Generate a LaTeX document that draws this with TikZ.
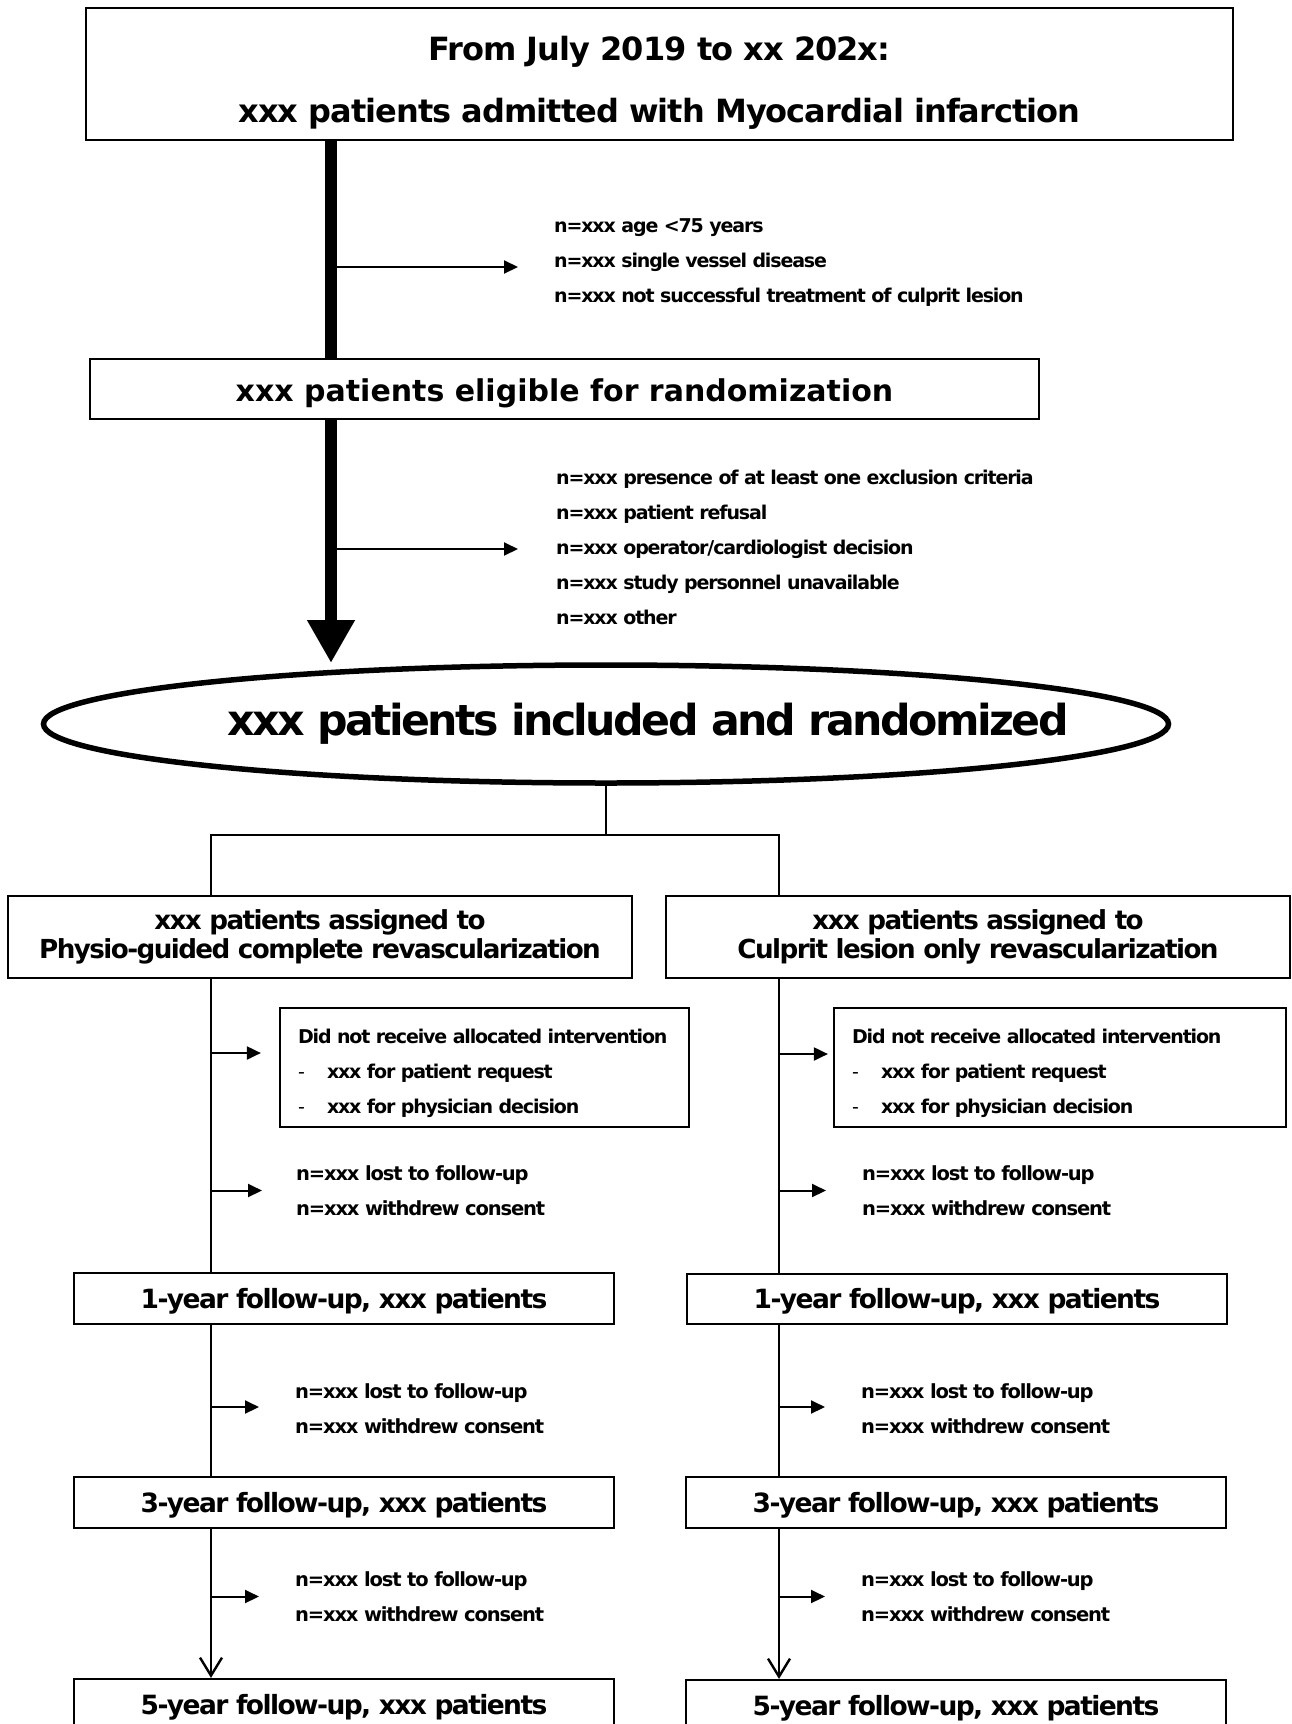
\documentclass[tikz,border=0pt]{standalone}
\usepackage{fontspec}
\setmainfont{DejaVu Sans}
\newfontfamily\tah{DejaVu Sans}[LetterSpace=-6]
\newfontfamily\verd{DejaVu Sans}[LetterSpace=-3]
\newcommand\lowr[2]{\raisebox{-#1}[\height][\depth]{#2}}
\usetikzlibrary{arrows.meta,shapes.geometric}
\begin{document}
\begin{tikzpicture}[x=1pt,y=-1pt,
  box/.style={draw,line width=2.2pt,inner sep=0pt},
  conn/.style={line width=2.4pt},
  sarrow/.style={line width=2pt,-{Triangle[length=14pt,width=13pt]}},
  downarrow/.style={line width=2.4pt,-{Straight Barb[length=18pt,width=22pt,line width=2.4pt]}},
  bigarrow/.style={line width=12pt,-{Triangle[length=43pt,width=45pt]}},
  lst/.style={inner sep=0pt,anchor=west,align=left},
  hugef/.style={font=\verd\bfseries\fontsize{32}{62}\selectfont},
  elifont/.style={font=\bfseries\fontsize{30}{36}\selectfont},
  ellfont/.style={font=\tah\bfseries\fontsize{42.7}{48}\selectfont},
  asgfont/.style={font=\tah\bfseries\fontsize{26.2}{29}\selectfont},
  fufont/.style={font=\tah\bfseries\fontsize{26.5}{30}\selectfont},
  smallt/.style={font=\tah\bfseries\fontsize{19}{35}\selectfont},
  smallu/.style={font=\tah\bfseries\fontsize{19.5}{35}\selectfont}
]
\useasboundingbox (0,0) rectangle (1291,1724);
\clip (0,0) rectangle (1291,1724);

% top part
\node[box,hugef,minimum width=1147,minimum height=132] (top) at (659.5,74)
  {\lowr{5.5pt}{\begin{tabular}{@{}c@{}}From July 2019 to xx 202x:\\xxx patients admitted with Myocardial infarction\end{tabular}}};
\node[box,elifont,minimum width=949,minimum height=60] (elig) at (564.5,389)
  {\lowr{4pt}{xxx patients eligible for randomization}};
\node[draw,ellipse,line width=5.5pt,inner sep=0pt,minimum width=1125,minimum height=118,ellfont] (ell) at (606,724)
  {\makebox[0pt]{\hspace{84pt}xxx patients included and randomized}};

\coordinate (sA) at (331,300);
\coordinate (tipA) at (331,663);

\node[lst,smallt] (lst1) at (554,263)
  {n=xxx age <75 years\\n=xxx single vessel disease\\n=xxx not successful treatment of culprit lesion};
\node[lst,smallt] (lst2) at (556,547)
  {n=xxx presence of at least one exclusion criteria\\n=xxx patient refusal\\n=xxx operator/cardiologist decision\\n=xxx study personnel unavailable\\n=xxx other};

\draw[line width=12pt] (top.south -| sA) -- (elig.north -| sA);
\draw[bigarrow] (elig.south -| sA) -- (tipA);
\draw[sarrow] (sA |- lst1.west) ++(0,4) -- ([xshift=-36pt,yshift=-4pt]lst1.west);
\draw[sarrow] (sA |- lst2.west) ++(0,2) -- ([xshift=-38pt,yshift=-2pt]lst2.west);

% branches
\node[box,asgfont,minimum width=624,minimum height=82] (asgL) at (320,937)
  {\lowr{1.5pt}{\begin{tabular}{@{}c@{}}xxx patients assigned to\\Physio-guided complete revascularization\end{tabular}}};
\node[box,asgfont,minimum width=624,minimum height=82] (asgR) at (978,937)
  {\lowr{1.5pt}{\begin{tabular}{@{}c@{}}xxx patients assigned to\\Culprit lesion only revascularization\end{tabular}}};

\coordinate (br) at (606,835);
\coordinate (sL) at (211,835);
\coordinate (sR) at (779,835);
\draw[conn] (ell.south) -- (br);
\draw[conn] (asgL.north -| sL) -- (sL) -- (sR) -- (asgR.north -| sR);

% intervention boxes
\node[box,smallt,minimum width=409,minimum height=119] (dnrL) at (484.5,1067.5)
  {\makebox[373pt][l]{\lowr{3.5pt}{\begin{tabular}{@{}l@{}}Did not receive allocated intervention\\\makebox[29pt][l]{\mdseries -}xxx for patient request\\\makebox[29pt][l]{\mdseries -}xxx for physician decision\end{tabular}}}};
\node[box,smallt,minimum width=452,minimum height=119] (dnrR) at (1060,1067.5)
  {\makebox[416pt][l]{\lowr{3.5pt}{\begin{tabular}{@{}l@{}}Did not receive allocated intervention\\\makebox[29pt][l]{\mdseries -}xxx for patient request\\\makebox[29pt][l]{\mdseries -}xxx for physician decision\end{tabular}}}};

% lost lists
\node[lst,smallu] (l1L) at (296,1190.5) {n=xxx lost to follow-up\\n=xxx withdrew consent};
\node[lst,smallu] (l1R) at (862,1190.5) {n=xxx lost to follow-up\\n=xxx withdrew consent};
\node[lst,smallu] (l2L) at (295,1409) {n=xxx lost to follow-up\\n=xxx withdrew consent};
\node[lst,smallu] (l2R) at (861,1409) {n=xxx lost to follow-up\\n=xxx withdrew consent};
\node[lst,smallu] (l3L) at (295,1596.5) {n=xxx lost to follow-up\\n=xxx withdrew consent};
\node[lst,smallu] (l3R) at (861,1596.5) {n=xxx lost to follow-up\\n=xxx withdrew consent};

% follow-up boxes
\node[box,fufont,minimum width=540,minimum height=51] (y1L) at (344,1298.5) {\lowr{2.5pt}{1-year follow-up, xxx patients}};
\node[box,fufont,minimum width=540,minimum height=50] (y1R) at (957,1299) {\lowr{2.5pt}{1-year follow-up, xxx patients}};
\node[box,fufont,minimum width=540,minimum height=51] (y3L) at (344,1502.5) {\lowr{2.5pt}{3-year follow-up, xxx patients}};
\node[box,fufont,minimum width=540,minimum height=51] (y3R) at (956,1502.5) {\lowr{2.5pt}{3-year follow-up, xxx patients}};
\node[box,fufont,minimum width=540,minimum height=51] (y5L) at (344,1704.5) {\lowr{2.5pt}{5-year follow-up, xxx patients}};
\node[box,fufont,minimum width=540,minimum height=51] (y5R) at (956,1705.5) {\lowr{2.5pt}{5-year follow-up, xxx patients}};

% left column lines
\draw[conn] (asgL.south -| sL) -- (y1L.north -| sL);
\draw[conn] (y1L.south -| sL) -- (y3L.north -| sL);
\draw[downarrow] (y3L.south -| sL) -- (y5L.north -| sL);
% right column lines
\draw[conn] (asgR.south -| sR) -- (y1R.north -| sR);
\draw[conn] (y1R.south -| sR) -- (y3R.north -| sR);
\draw[downarrow] (y3R.south -| sR) -- (y5R.north -| sR);

% side arrows
\draw[sarrow] ([yshift=14.5pt]dnrL.west -| sL) -- ([xshift=-18pt,yshift=14.5pt]dnrL.west);
\draw[sarrow] ([yshift=13.5pt]dnrR.west -| sR) -- ([xshift=-5pt,yshift=13.5pt]dnrR.west);
\draw[sarrow] (sL |- l1L.west) -- ([xshift=-34pt]l1L.west);
\draw[sarrow] (sR |- l1R.west) -- ([xshift=-36pt]l1R.west);
\draw[sarrow] (sL |- l2L.west) ++(0,-2) -- ([xshift=-36pt,yshift=2pt]l2L.west);
\draw[sarrow] (sR |- l2R.west) ++(0,-2) -- ([xshift=-36pt,yshift=2pt]l2R.west);
\draw[sarrow] (sL |- l3L.west) -- ([xshift=-36pt]l3L.west);
\draw[sarrow] (sR |- l3R.west) -- ([xshift=-36pt]l3R.west);
\end{tikzpicture}
\end{document}
